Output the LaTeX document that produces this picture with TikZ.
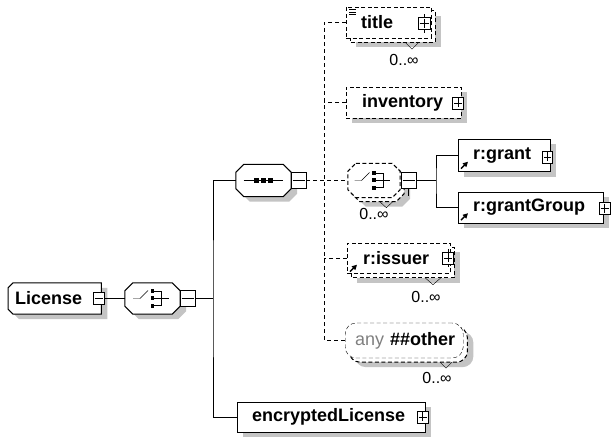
\documentclass[tikz,border=0pt]{standalone}
\usepackage{fontspec}
\setmainfont{Liberation Sans}
\usetikzlibrary{calc,arrows.meta}
\definecolor{shadegray}{RGB}{196,196,196}
\definecolor{anygray}{RGB}{128,128,128}
\pgfdeclarelayer{paper}
\pgfdeclarelayer{shadow}
\pgfdeclarelayer{backcopy}
\pgfdeclarelayer{frame}
\pgfsetlayers{paper,shadow,backcopy,frame,main}
\newcommand\elpad[1]{\hspace*{#1}}
% outline of a node's box, moved by (#2,#3)
\newcommand\boxpath[3]{($(#1.north west)+(#2,#3)$) rectangle ($(#1.south east)+(#2,#3)$)}
% octagon round a node, chamfer #2, moved by (#3,#4)
\newcommand\octpath[4]{($(#1.north west)+(#3+#2,#4)$) -- ($(#1.north east)+(#3-#2,#4)$)
  -- ($(#1.north east)+(#3,#4+#2)$) -- ($(#1.south east)+(#3,#4-#2)$)
  -- ($(#1.south east)+(#3-#2,#4)$) -- ($(#1.south west)+(#3+#2,#4)$)
  -- ($(#1.south west)+(#3,#4-#2)$) -- ($(#1.north west)+(#3,#4+#2)$) -- cycle}
% box with its two left corners cut, moved by (#2,#3)
\newcommand\rootpath[3]{($(#1.north west)+(#2+5,#3)$) -- ($(#1.north east)+(#2,#3)$)
  -- ($(#1.south east)+(#2,#3)$) -- ($(#1.south west)+(#2+5,#3)$)
  -- ($(#1.south west)+(#2,#3-5)$) -- ($(#1.north west)+(#2,#3+5)$) -- cycle}
% switch-like symbol of a choice compositor
\newcommand\choiceglyph[1]{%
  \begin{scope}[shift={(#1)}]
    \draw (-19.5,0) -- (-12.5,0) -- (-4.5,-8);
    \fill (-2,-9.5) rectangle (1.5,-5.5);
    \fill (-2,-2) rectangle (1.5,2);
    \fill (-2,5.5) rectangle (1.5,9.5);
    \draw (1.5,-7) -- (9,-7) -- (9,7) -- (1.5,7);
    \draw (1.5,0) -- (16,0);
  \end{scope}}
% three dots on a line: sequence compositor
\newcommand\seqglyph[1]{%
  \begin{scope}[shift={(#1)}]
    \draw (-20,0) -- (19,0);
    \foreach \d in {-7,0,7} \fill (\d-2.5,-2.5) rectangle +(5,5);
  \end{scope}}
\begin{document}
\begin{tikzpicture}[x=1pt,y=-1pt,line width=1pt,
  lettering/.style={font=\fontsize{18}{20}\selectfont\bfseries},
  opt/.style={dash pattern=on 4pt off 2.5pt},
  elembox/.style={draw,fill=white,rectangle,inner sep=0pt,minimum height=31pt,align=left,lettering,anchor=west},
  octanode/.style={rectangle,inner sep=0pt},
  pmbox/.style={draw,fill=white,rectangle,inner sep=0pt,minimum width=11pt,minimum height=12pt},
  plusbox/.style={pmbox,path picture={
     \draw ([xshift=1.5pt]path picture bounding box.west)--([xshift=-1.5pt]path picture bounding box.east);
     \draw ([yshift=-1.5pt]path picture bounding box.north)--([yshift=1.5pt]path picture bounding box.south);}},
  minusbox/.style={pmbox,path picture={\draw ([xshift=1.5pt]path picture bounding box.west)--([xshift=-1.5pt]path picture bounding box.east);}},
  cminus/.style={minusbox,minimum width=15pt,minimum height=16pt},
  occurs/.style={font=\fontsize{16}{18}\selectfont},
  optlink/.style={dash pattern=on 4pt off 3pt},
  refarrow/.style={-{Triangle[length=5pt,width=5pt]},line width=1.4pt},
  shadowfill/.style={fill=shadegray,draw=none},
  outline/.style={fill=white,draw=black,line width=1pt},
  copyframe/.style={outline,opt},
]
\useasboundingbox (0,0) rectangle (611,443);
\begin{pgfonlayer}{paper}
  \fill[white] (0,0) rectangle (611,443);
\end{pgfonlayer}

% root element and its choice
\node[elembox,draw=none,fill=none,text width=93pt] (license) at (8,298.5) {\elpad{7pt}License};
\node[minusbox] (licm) at (98.5,298.5) {};
\node[octanode,minimum width=55pt,minimum height=31pt] (c1) at (152.5,298.5) {};
\node[cminus] (c1m) at (187.5,298.5) {};
\coordinate (jL) at (213,298.5);

% sequence branch
\node[octanode,minimum width=55pt,minimum height=32pt] (seq) at (263.5,180.5) {};
\node[cminus] (seqm) at (298.5,180.5) {};
\coordinate (jR) at (324,180.5);

\node[elembox,opt,text width=85pt] (title) at (346,22.5) {\elpad{15pt}title};
\node[plusbox,minimum width=12pt] (titlep) at (424,23.5) {};
\node[elembox,opt,text width=115pt] (inventory) at (346,102.5) {\elpad{16pt}inventory};
\node[plusbox] (invp) at (458,103) {};

\node[octanode,minimum width=52pt,minimum height=34pt] (c2) at (374,180.5) {};
\node[cminus] (c2m) at (408.5,180.5) {};
\coordinate (jG) at (436,180.5);

\node[elembox,text width=92pt,minimum height=32pt] (grant) at (458,155.5) {\elpad{15pt}r:grant};
\node[plusbox,minimum width=10pt] (grantp) at (547.5,157) {};
\node[elembox,text width=145pt] (grantg) at (458,207.5) {\elpad{15pt}r:grantGroup};
\node[plusbox] (grantgp) at (604.5,208.5) {};

\node[elembox,opt,text width=103pt,minimum height=30pt] (issuer) at (347,258.5) {\elpad{16pt}r:issuer};
\node[plusbox] (issp) at (448,258) {};

\node[elembox,opt,rounded corners=11pt,text width=118pt,minimum height=35pt] (any) at (345,340.5)
     {\elpad{10pt}{\mdseries\color{anygray}any} \#\#other};

\node[elembox,text width=188pt,minimum height=30pt] (encl) at (237,417) {\elpad{15pt}encryptedLicense};
\node[plusbox] (enclp) at (422.5,417) {};

% drop shadows
\begin{pgfonlayer}{shadow}
  \fill[shadowfill] \rootpath{license}{6}{5};
  \fill[shadowfill] \octpath{c1}{8}{6}{5};
  \fill[shadowfill] \octpath{seq}{8}{6}{5};
  \fill[shadowfill] \octpath{c2}{8}{10}{9};
  \fill[shadowfill] \boxpath{title}{10}{9};
  \fill[shadowfill] \boxpath{inventory}{6}{5};
  \fill[shadowfill] \boxpath{grant}{6}{5};
  \fill[shadowfill] \boxpath{grantg}{6}{5};
  \fill[shadowfill] \boxpath{issuer}{10}{9};
  \fill[shadowfill,rounded corners=11pt] \boxpath{any}{10}{9};
  \fill[shadowfill] \boxpath{encl}{6}{5};
\end{pgfonlayer}

% second copies behind repeated particles
\begin{pgfonlayer}{backcopy}
  \filldraw[copyframe] \boxpath{title}{4}{4};
  \filldraw[copyframe] \octpath{c2}{8}{4}{4};
  \filldraw[copyframe] \boxpath{issuer}{4}{4};
  \filldraw[copyframe,rounded corners=11pt] \boxpath{any}{4}{4};
\end{pgfonlayer}

% outlines of the root element and the compositors
\begin{pgfonlayer}{frame}
  \filldraw[outline] \rootpath{license}{0}{0};
  \filldraw[outline] \octpath{c1}{8}{0}{0};
  \filldraw[outline] \octpath{seq}{8}{0}{0};
  \filldraw[outline,opt] \octpath{c2}{8}{0}{0};
\end{pgfonlayer}

% compositor symbols
\choiceglyph{c1.center}
\choiceglyph{c2.center}
\seqglyph{seq.center}

% connectors
\draw (licm.east) -- (c1.west);
\draw (c1m.east) -- (jL);
\draw (seq.west) -| (jL) |- (encl.west);
\draw[optlink] (seqm.east) -- (c2.west);
\draw[optlink] (title.west) -| (jR) |- (any.west);
\draw[optlink] (inventory.west) -- (inventory.west -| jR);
\draw[optlink] (issuer.west) -- (issuer.west -| jR);
\draw (c2m.east) -- (jG);
\draw (grant.west) -| (jG) |- (grantg.west);

% occurrence marks on repeated particles
\draw ($(title.south west)+(59,4)$) -- +(7,7) -- +(14,0);
\draw ($(c2.south west)+(32,4)$) -- +(6.5,6) -- +(13,0);
\draw ($(issuer.south west)+(78,4)$) -- +(8,7) -- +(16,0);
\draw ($(any.south west)+(95,4)$) -- +(6,6) -- +(12,0);
\draw (titlep.north) -- +(0,-3);
\draw (titlep.south) -- +(0,3);
\draw (issp.north) -- +(0,-3);
\draw (issp.south) -- +(0,3);
\draw (c2m.south) -- +(0,7);

% simple-content mark and reference arrows
\draw[line width=0.8pt] ($(title.north west)+(3,3)$) -- +(7,0);
\draw[line width=0.8pt] ($(title.north west)+(3,5.5)$) -- +(7,0);
\draw[line width=0.8pt] ($(title.north west)+(3,8)$) -- +(7,0);
\draw[refarrow] ($(grant.south west)+(3,-3)$) -- +(7,-7);
\draw[refarrow] ($(grantg.south west)+(3,-3)$) -- +(7,-7);
\draw[refarrow] ($(issuer.south west)+(3,-2)$) -- +(7,-7);

% occurrence ranges
\node[occurs] (occtitle) at (404,60) {0..∞};
\node[occurs] (occc2) at (374,214) {0..∞};
\node[occurs] (occissuer) at (426,297) {0..∞};
\node[occurs] (occany) at (437,378) {0..∞};
\end{tikzpicture}
\end{document}
